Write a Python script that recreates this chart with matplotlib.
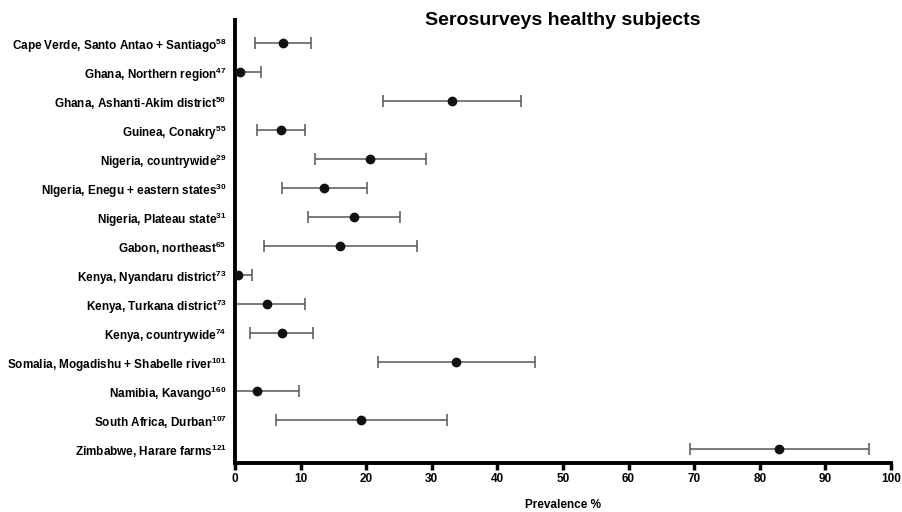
import numpy as np
import matplotlib
matplotlib.use("Agg")
import matplotlib.pyplot as plt

plt.rcParams['font.family'] = ['Liberation Sans', 'DejaVu Sans']
plt.rcParams['font.weight'] = 'bold'
plt.rcParams['mathtext.fontset'] = 'custom'
plt.rcParams['mathtext.rm'] = 'Liberation Sans'
plt.rcParams['mathtext.bf'] = 'Liberation Sans:bold'

# Survey sites and reference numbers
sites = [
    "Cape Verde, Santo Antao + Santiago", "Ghana, Northern region",
    "Ghana, Ashanti-Akim district", "Guinea, Conakry", "Nigeria, countrywide",
    "NIgeria, Enegu + eastern states", "Nigeria, Plateau state", "Gabon, northeast",
    "Kenya, Nyandaru district", "Kenya, Turkana district", "Kenya, countrywide",
    "Somalia, Mogadishu + Shabelle river", "Namibia, Kavango",
    "South Africa, Durban", "Zimbabwe, Harare farms",
]
refs = ["58", "47", "50", "55", "29", "30", "31", "65", "73", "73", "74",
        "101", "160", "107", "121"]

# Prevalence estimates with lower / upper CI
prevalence = [7.3, 0.8, 33.1, 7.0, 20.6, 13.6, 18.1, 16.0, 0.5, 4.9, 7.2, 33.7, 3.4, 19.2, 83.0]
ci_low = [3.0, 0.0, 22.6, 3.4, 12.2, 7.2, 11.1, 4.4, 0.0, 0.0, 2.3, 21.8, 0.0, 6.2, 69.4]
ci_high = [11.6, 4.0, 43.6, 10.7, 29.1, 20.1, 25.2, 27.7, 2.6, 10.6, 11.9, 45.7, 9.8, 32.3, 96.6]

prev = np.array(prevalence)
err = np.vstack([prev - np.array(ci_low), np.array(ci_high) - prev])
ypos = np.arange(len(sites))

fig = plt.figure(figsize=(9.02, 5.12), dpi=100)
ax = fig.add_axes([0.2605, 0.0957, 0.7273, 0.865])

ax.errorbar(prev, ypos, xerr=err, fmt='none', ecolor='#555555',
            elinewidth=1.1, capsize=4, capthick=1.1, zorder=2)
ax.plot(prev, ypos, 'o', color='#111111', markersize=6, zorder=3)

ax.set_xlim(0, 100)
ax.set_ylim(14.48, -0.8)
ax.set_xticks(np.arange(0, 101, 10))
ax.set_yticks(ypos)
ax.set_yticklabels([f"{s}$^{{\\mathbf{{{r}}}}}$" for s, r in zip(sites, refs)],
                   fontsize=8.5, fontweight='bold')
ax.tick_params(axis='y', length=0, pad=6)
ax.tick_params(axis='x', length=5, width=2.5, labelsize=8.5, pad=2)
for lab in ax.get_xticklabels():
    lab.set_fontweight('bold')

for side in ['top', 'right']:
    ax.spines[side].set_visible(False)
for side in ['left', 'bottom']:
    ax.spines[side].set_linewidth(2.8)

ax.set_xlabel("Prevalence %", fontsize=8.5, fontweight='bold', labelpad=10)
ax.text(0.5, 1.0, "Serosurveys healthy subjects", transform=ax.transAxes,
        ha='center', va='center', fontsize=14, fontweight='bold')

plt.savefig('out.png', dpi=100)
plt.close()
